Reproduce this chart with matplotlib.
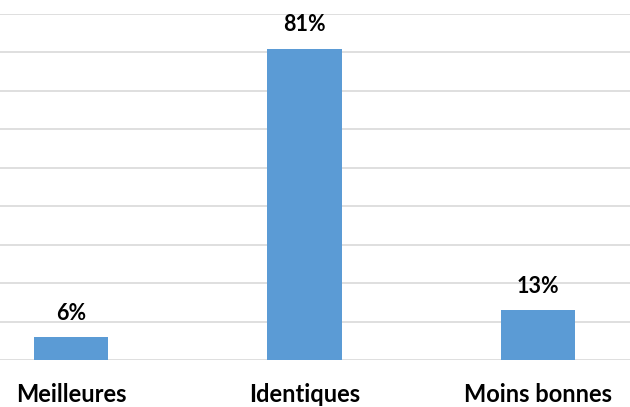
import matplotlib.pyplot as plt

categories = ['Meilleures', 'Identiques', 'Moins bonnes']
values = [6, 81, 13]
labels = ['6%', '81%', '13%']

fig = plt.figure(figsize=(6.3, 4.07), dpi=100)
ax = fig.add_axes([0, 47 / 407, 1, 346 / 407])

x = range(len(categories))
ax.bar(x, values, width=0.32, color='#5b9bd5', zorder=2)

ax.set_ylim(0, 90)
ax.set_yticks(range(0, 91, 10))
ax.set_xlim(-71 / 233.5, 559 / 233.5)
ax.yaxis.grid(True, color='#d9d9d9', linewidth=1.2)
ax.set_axisbelow(True)
ax.tick_params(axis='y', left=False, labelleft=False)
ax.tick_params(axis='x', bottom=False, pad=13)
ax.set_xticks(list(x))
ax.set_xticklabels(categories, fontsize=17, fontweight='bold', family='Lato')
for s in ax.spines.values():
    s.set_visible(False)

for i, v in enumerate(values):
    ax.annotate(labels[i], (i, v), xytext=(0, 17), textcoords='offset points',
                ha='center', va='center', fontsize=15.5, fontweight='bold', family='Lato')

fig.savefig('out.png')
